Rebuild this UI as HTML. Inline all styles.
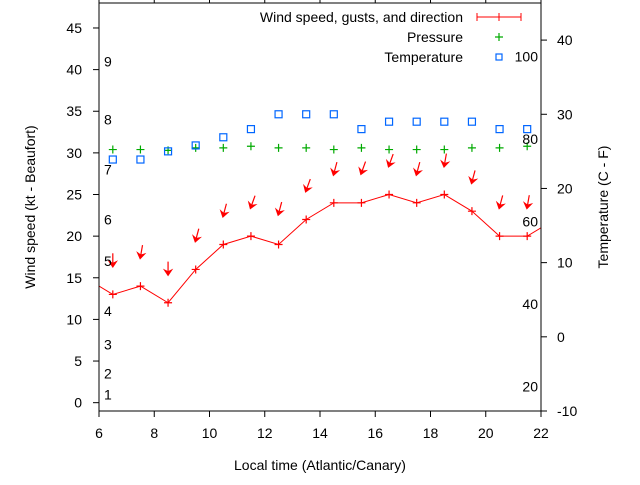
<!DOCTYPE html>
<html><head><meta charset="utf-8"><style>
body{margin:0;background:#fff}
svg text{font-family:"Liberation Sans",sans-serif;font-size:14px;fill:#000}
</style></head><body>
<svg id="c" width="640" height="480" viewBox="0 0 640 480" xmlns="http://www.w3.org/2000/svg">
<defs><clipPath id="pc"><rect x="99" y="3" width="442" height="408"/></clipPath></defs>
<g id="grid"></g>
<g id="marks" clip-path="url(#pc)"></g>
<rect x="99" y="3" width="442" height="408" fill="none" stroke="#000" stroke-width="1"/>
<g id="axes"></g>
<text x="35" y="207" text-anchor="middle" transform="rotate(-90 35 207)">Wind speed (kt - Beaufort)</text>
<text x="608" y="207" text-anchor="middle" transform="rotate(-90 608 207)">Temperature (C - F)</text>
<text x="320" y="470" text-anchor="middle">Local time (Atlantic/Canary)</text>
<g>
<text x="463" y="22" text-anchor="end">Wind speed, gusts, and direction</text>
<path d="M477 17H521M477 13V21M499 13V21M521 13V21" stroke="#f00" stroke-width="1" fill="none"/>
<text x="463" y="42" text-anchor="end">Pressure</text>
<path d="M495 37H503M499 33V41" stroke="#0a0" stroke-width="1.2"/>
<text x="463" y="62" text-anchor="end">Temperature</text>
<rect x="496" y="54" width="6" height="6" fill="none" stroke="#06f" stroke-width="1.2"/>
</g>
</svg>
<script>
const hours=[5.5,6.5,7.5,8.5,9.5,10.5,11.5,12.5,13.5,14.5,15.5,16.5,17.5,18.5,19.5,20.5,21.5,22.5];
const speed=[15,13,14,12,16,19,20,19,22,24,24,25,24,25,23,20,20,22];
const gustHours=[6.5,7.5,8.5,9.5,10.5,11.5,12.5,13.5,14.5,15.5,16.5,17.5,18.5,19.5,20.5,21.5];
const gusts=[16.5,17.5,15.5,19.5,22.5,23.5,22.7,25.5,27.5,27.6,28.5,27.5,28.5,26.5,23.5,23.5];
const direction=[0,10,0,15,15,20,15,20,15,20,20,15,10,15,15,10];
const pressure=[1015.4,1015.4,1015.3,1015.6,1015.6,1015.8,1015.6,1015.6,1015.4,1015.6,1015.4,1015.4,1015.4,1015.6,1015.6,1015.8];
const tempC=[23.9,23.9,25,25.8,26.9,28,30,30,30,28,29,29,29,29,28,28];
const xTicks=[6,8,10,12,14,16,18,20,22];
const yTicks=[0,5,10,15,20,25,30,35,40,45];
const y2Ticks=[-10,0,10,20,30,40];
const fLabels=[20,40,60,80,100];
const beaufort=["1","2","3","4","5","6","7","8","9"];
const beaufortKt=[1,3.5,7,11,17,22,28,34,41];

const NS="http://www.w3.org/2000/svg";
const X=h=>99+(h-6)*442/16;
const Y=v=>411-(v+1)*408/49;
const Y2=c=>411-(c+10)*408/55;
const P=p=>Y(p-985);
const marks=document.getElementById('marks'),axes=document.getElementById('axes');
function el(t,a,parent){const e=document.createElementNS(NS,t);for(const k in a)e.setAttribute(k,a[k]);parent.appendChild(e);return e;}

xTicks.forEach(t=>{
  const l=el('path',{d:`M${X(t)} 411V417M${X(t)} 3V-3`,stroke:'#000'},axes);
  
  
  const tx=el('text',{x:X(t),y:438,'text-anchor':'middle'},axes);tx.textContent=t;
  
  
});
yTicks.forEach(t=>{
  const l=el('path',{d:`M93 ${Y(t)}H99`,stroke:'#000'},axes);
  
  
  const tx=el('text',{x:82,y:Y(t)+5,'text-anchor':'end'},axes);tx.textContent=t;
  
  
});
y2Ticks.forEach(t=>{
  const l=el('path',{d:`M541 ${Y2(t)}H547`,stroke:'#000'},axes);
  
  
  const tx=el('text',{x:557,y:Y2(t)+5,'text-anchor':'start'},axes);tx.textContent=t;
  
  
});
fLabels.forEach(f=>{
  const tx=el('text',{x:538,y:Y2((f-32)*5/9)+5,'text-anchor':'end'},axes);tx.textContent=f;
  
  
});
beaufort.forEach((b,i)=>{
  const tx=el('text',{x:104,y:Y(beaufortKt[i])+5},axes);tx.textContent=b;
  
  
});

const line=el('polyline',{points:hours.map((h,i)=>X(h)+','+Y(speed[i])).join(' '),fill:'none',stroke:'#f00','stroke-width':1},marks);


hours.forEach((h,i)=>{
  const p=el('path',{d:`M${X(h)-4} ${Y(speed[i])}h8M${X(h)} ${Y(speed[i])-4}v8`,stroke:'#f00','stroke-width':1.2},marks);
  
  
});
gustHours.forEach((h,i)=>{
  const g=el('g',{transform:`translate(${X(h)},${Y(gusts[i])}) rotate(${direction[i]})`},marks);
  
  
  el('path',{d:'M0 -12V0',stroke:'#f00','stroke-width':1.2},g);
  el('path',{d:'M-4 -4L0 2L4 -4L0 -2Z',fill:'#f00',stroke:'#f00','stroke-width':0.8},g);
});
gustHours.forEach((h,i)=>{
  const p=el('path',{d:`M${X(h)-4} ${P(pressure[i])}h8M${X(h)} ${P(pressure[i])-4}v8`,stroke:'#0a0','stroke-width':1.2},marks);
  
  
});
gustHours.forEach((h,i)=>{
  const r=el('rect',{x:X(h)-3.5,y:Y2(tempC[i])-3.5,width:7,height:7,fill:'none',stroke:'#06f','stroke-width':1.2},marks);
  
  
});
</script>
</body></html>
